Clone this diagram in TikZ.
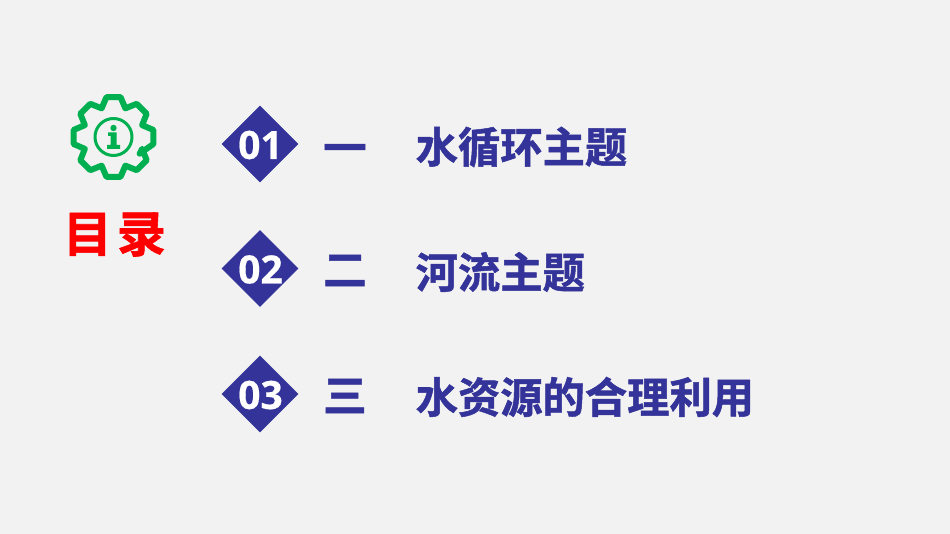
\documentclass[tikz,border=0pt]{standalone}
\usepackage{fontspec}
\setmainfont{Noto Sans CJK SC}[BoldFont={* Bold},BoldFeatures={FakeBold=1.2}]
\newfontfamily\numfont{Open Sans}[BoldFont={* Bold},BoldFeatures={FakeBold=0.4}]
\usetikzlibrary{shapes.geometric}
\definecolor{navy}{HTML}{333399}
\definecolor{gearg}{HTML}{00B050}
\definecolor{pagebg}{HTML}{F2F2F2}
\tikzset{
  x=1pt,y=1pt,
  diam/.style={diamond,aspect=1,fill=navy,inner sep=0pt,minimum width=77pt,minimum height=77pt},
  numtxt/.style={text=white,font=\numfont\bfseries\fontsize{39}{43}\selectfont,inner sep=0pt},
  captxt/.style={text=navy,font=\bfseries\fontsize{42.3}{46}\selectfont,inner sep=0pt},
  ordtxt/.style={text=navy,font=\bfseries\fontsize{43.5}{46}\selectfont,inner sep=0pt},
  gearline/.style={draw=gearg,line join=round,line cap=round}
}
\begin{document}
\begin{tikzpicture}
\fill[pagebg] (0,0) rectangle (950,-534);
\useasboundingbox (0,0) rectangle (950,-534);
% gear icon
\begin{scope}[shift={(113.5,-137)}]
  \draw[gearline,line width=6pt] (-32.5:31)
    \foreach \a in {0,45,...,315}{ -- (\a-10:40.5) -- (\a+10:40.5) -- (\a+22.5:31)} -- cycle;
  \draw[gearline,line width=3pt] (0,0) circle (18.5);
  \fill[gearg] (0,9) circle (3.2);
  \fill[gearg] (-5.5,4.5) -- (3,4.5) -- (3,-8) -- (6.5,-8) -- (6.5,-12) -- (-6.5,-12) -- (-6.5,-8) -- (-3,-8) -- (-3,1) -- (-5.5,1) -- cycle;
\end{scope}
\node[text=red,font=\bfseries\fontsize{49}{53}\selectfont,inner sep=0pt] (title) at (114.5,-234.5) {目\hspace{0.1em}录};
\node[diam] (d1) at (260,-144) {};
\node[diam] (d2) at (260,-268.5) {};
\node[diam] (d3) at (260,-394) {};
\node[numtxt] (n1) at (260.5,-145) {01};
\node[numtxt] (n2) at (260.5,-269.5) {02};
\node[numtxt] (n3) at (260.5,-395) {03};
\node[ordtxt] (a1) at (345,-154) {一};
\node[ordtxt] (a2) at (345,-270.5) {二};
\node[ordtxt] (a3) at (345,-396) {三};
\node[captxt,anchor=west] (b1) at (415.5,-147) {水循环主题};
\node[captxt,anchor=west] (b2) at (415.5,-272) {河流主题};
\node[captxt,anchor=west] (b3) at (415.5,-397) {水资源的合理利用};
\end{tikzpicture}
\end{document}
